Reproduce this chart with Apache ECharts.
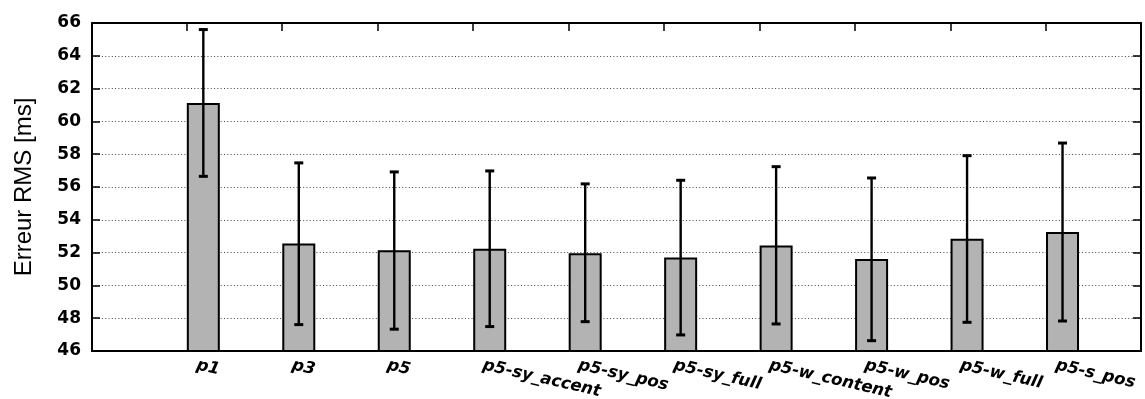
<!DOCTYPE html>
<html>
<head>
<meta charset="utf-8">
<script src="https://cdn.jsdelivr.net/npm/echarts@6/dist/echarts.min.js"></script>
<style>
html,body{margin:0;padding:0;background:#fff;}
#chart{width:1145px;height:399px;}
</style>
</head>
<body>
<div id="chart"></div>
<script>
const categories = ['p1','p3','p5','p5-sy_accent','p5-sy_pos','p5-sy_full','p5-w_content','p5-w_pos','p5-w_full','p5-s_pos'];
const means = [61.12, 52.55, 52.14, 52.24, 51.96, 51.70, 52.43, 51.61, 52.85, 53.26];
const lows  = [56.65, 47.61, 47.33, 47.49, 47.79, 46.98, 47.65, 46.63, 47.75, 47.83];
const highs = [65.60, 57.47, 56.92, 56.98, 56.19, 56.41, 57.24, 56.55, 57.91, 58.68];
const yTicks = [46, 48, 50, 52, 54, 56, 58, 60, 62, 64, 66];

const idx = categories.map((c, i) => i);
const barData = means.map((m, i) => [i, m]);
const errData = lows.map((l, i) => [i, l, highs[i]]);

const chart = echarts.init(document.getElementById('chart'), null, {renderer: 'canvas'});
const X_MIN = -1.166, X_MAX = 9.822;
const frame = {show: true, onZero: false, lineStyle: {color: '#000', width: 2}};
chart.setOption({
  animation: false,
  backgroundColor: '#fff',
  grid: {left: 92, right: 4, top: 23, bottom: 48, containLabel: false, outerBoundsMode: 'none'},
  xAxis: [{
    type: 'value', position: 'bottom', min: X_MIN, max: X_MAX,
    axisLine: frame,
    axisTick: {show: false},
    splitLine: {show: false},
    axisLabel: {
      customValues: idx.map(i => i - 0.07),
      formatter: v => categories[Math.round(v)],
      rotate: -13, margin: 14,
      fontFamily: 'DejaVu Sans', fontWeight: 'bold', fontStyle: 'italic',
      fontSize: 16.5, color: '#000'
    }
  }, {
    type: 'value', position: 'top', min: X_MIN, max: X_MAX,
    axisLine: frame,
    axisTick: {show: true, inside: true, length: 8, customValues: idx.map(i => i - 0.175), lineStyle: {color: '#000', width: 1.5}},
    axisLabel: {show: false},
    splitLine: {show: false}
  }],
  yAxis: [{
    type: 'value', position: 'left', min: 46, max: 66, interval: 2,
    axisLine: frame,
    axisTick: {show: true, inside: true, length: 8, lineStyle: {color: '#000', width: 1.5}},
    axisLabel: {
      customValues: yTicks,
      margin: 11, fontFamily: 'DejaVu Sans', fontWeight: 'bold', fontSize: 17, color: '#000'
    },
    splitLine: {show: true, lineStyle: {color: '#444', width: 1, type: [1, 2.3]}},
    name: 'Erreur RMS [ms]', nameLocation: 'middle', nameGap: 56, nameRotate: 90,
    nameTextStyle: {fontFamily: 'Liberation Sans', fontSize: 24, color: '#000'}
  }, {
    type: 'value', position: 'right', min: 46, max: 66, interval: 2,
    axisLine: frame,
    axisTick: {show: true, inside: true, length: 8, lineStyle: {color: '#000', width: 1.5}},
    axisLabel: {show: false},
    splitLine: {show: false}
  }],
  series: [{
    type: 'bar',
    xAxisIndex: 0, yAxisIndex: 0,
    data: barData,
    barWidth: 33,
    itemStyle: {color: '#b3b3b3', borderColor: '#000', borderWidth: 2},
    z: 2
  }, {
    type: 'custom',
    xAxisIndex: 0, yAxisIndex: 0,
    data: errData,
    z: 3,
    renderItem: function (params, api) {
      const x = api.value(0);
      const lo = api.coord([x, api.value(1)]);
      const hi = api.coord([x, api.value(2)]);
      const cw = 4.5;
      const st = {stroke: '#000', lineWidth: 2.4};
      return {
        type: 'group',
        children: [
          {type: 'line', shape: {x1: lo[0], y1: lo[1], x2: hi[0], y2: hi[1]}, style: st},
          {type: 'line', shape: {x1: lo[0] - cw, y1: lo[1], x2: lo[0] + cw, y2: lo[1]}, style: {stroke: '#000', lineWidth: 3}},
          {type: 'line', shape: {x1: hi[0] - cw, y1: hi[1], x2: hi[0] + cw, y2: hi[1]}, style: {stroke: '#000', lineWidth: 3}}
        ]
      };
    }
  }]
});
</script>
</body>
</html>
